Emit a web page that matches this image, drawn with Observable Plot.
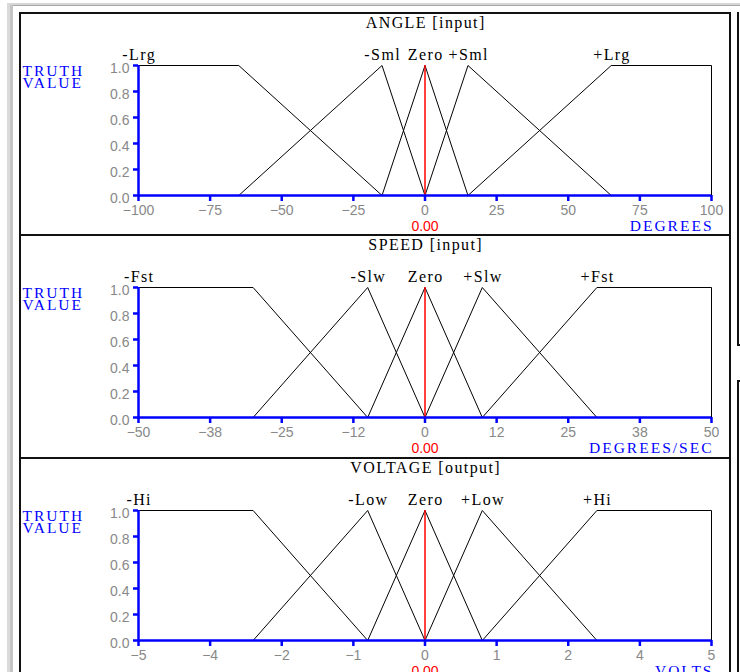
<!DOCTYPE html>
<html><head><meta charset="utf-8">
<script src="https://cdn.jsdelivr.net/npm/d3@7"></script>
<script src="https://cdn.jsdelivr.net/npm/@observablehq/plot@0.6"></script>
<style>
html,body{margin:0;padding:0;background:#fff;overflow:hidden;}
#wrap{position:relative;width:740px;height:672px;overflow:hidden;background:#fff;}
.ln{position:absolute;}
.panel{position:absolute;left:21px;}
</style></head><body>
<div id="wrap">
  <div class="ln" style="left:7px;top:3px;width:733px;height:2px;background:#d6d6d6"></div>
  <div class="ln" style="left:10px;top:5px;width:730px;height:1px;background:#a8a8a8"></div>
  <div class="ln" style="left:7px;top:3px;width:3px;height:669px;background:#dadada"></div>
  <div class="ln" style="left:10px;top:5px;width:3px;height:667px;background:#c4c4c4"></div>
  <div class="ln" style="left:19px;top:12px;width:712px;height:2px;background:#111"></div>
  <div class="ln" style="left:19px;top:12px;width:2px;height:660px;background:#111"></div>
  <div class="ln" style="left:729px;top:12px;width:2px;height:660px;background:#111"></div>
  <div class="ln" style="left:19px;top:234px;width:712px;height:2px;background:#111"></div>
  <div class="ln" style="left:19px;top:457px;width:712px;height:2px;background:#111"></div>
  <div class="ln" style="left:737px;top:12px;width:2px;height:334px;background:#111"></div>
  <div class="ln" style="left:737px;top:344px;width:3px;height:2px;background:#111"></div>
  <div class="ln" style="left:737px;top:380px;width:3px;height:2px;background:#111"></div>
  <div class="ln" style="left:737px;top:380px;width:2px;height:292px;background:#111"></div>
  <div class="panel" id="p1" style="top:14px"></div>
  <div class="panel" id="p2" style="top:236px"></div>
  <div class="panel" id="p3" style="top:459px"></div>
</div>
<script>
// ---- shared ----
const trapY = [0, 1, 1, 0];
const yTicks = [0, 0.2, 0.4, 0.6, 0.8, 1.0];
const truthLabel = "TRUTH\nVALUE";

// ---- ANGLE [input] ----
const angleTitle = "ANGLE [input]";
const angleSets = ["-Lrg", "-Sml", "Zero", "+Sml", "+Lrg"];
const angleFeet = [[-100, -100, -65, -15], [-65, -15, -15, 0], [-15, 0, 0, 15], [0, 15, 15, 65], [15, 65, 100, 100]];
const angleLabelAt = [-100, -15, 0, 15, 65];
const angleTicks = [-100, -75, -50, -25, 0, 25, 50, 75, 100];
const angleTickLabels = ["−100", "−75", "−50", "−25", "0", "25", "50", "75", "100"];
const angleUnit = "DEGREES";
const angleValue = 0;

// ---- SPEED [input] ----
const speedTitle = "SPEED [input]";
const speedSets = ["-Fst", "-Slw", "Zero", "+Slw", "+Fst"];
const speedFeet = [[-50, -50, -30, -10], [-30, -10, -10, 0], [-10, 0, 0, 10], [0, 10, 10, 30], [10, 30, 50, 50]];
const speedLabelAt = [-50, -10, 0, 10, 30];
const speedTicks = [-50, -37.5, -25, -12.5, 0, 12.5, 25, 37.5, 50];
const speedTickLabels = ["−50", "−38", "−25", "−12", "0", "12", "25", "38", "50"];
const speedUnit = "DEGREES/SEC";
const speedValue = 0;

// ---- VOLTAGE [output] ----
const voltTitle = "VOLTAGE [output]";
const voltSets = ["-Hi", "-Low", "Zero", "+Low", "+Hi"];
const voltFeet = [[-5, -5, -3, -1], [-3, -1, -1, 0], [-1, 0, 0, 1], [0, 1, 1, 3], [1, 3, 5, 5]];
const voltLabelAt = [-5, -1, 0, 1, 3];
const voltTicks = [-5, -3.75, -2.5, -1.25, 0, 1.25, 2.5, 3.75, 5];
const voltTickLabels = ["−5", "−4", "−2", "−1", "0", "1", "2", "4", "5"];
const voltUnit = "VOLTS";
const voltValue = 0;

const BLUE = "#0000ff", GRAY = "#888888", RED = "#ff0000", BLACK = "#000000";
const SERIF = "Liberation Serif, Times New Roman, serif";
const SANS = "Liberation Sans, Arial, sans-serif";

function panel(title, sets, feet, labelAt, ticks, tickLabels, unit, value) {
  const xmin = ticks[0], xmax = ticks[ticks.length - 1];
  const rows = [];
  sets.forEach((s, i) => feet[i].forEach((x, j) => rows.push({set: s, x, y: trapY[j]})));
  const svg = Plot.plot({
    width: 708, height: 221,
    marginLeft: 117, marginRight: 18, marginTop: 51, marginBottom: 40,
    x: {domain: [xmin, xmax]},
    y: {domain: [0, 1]},
    style: {fontFamily: SANS, fontSize: "14px", background: "transparent", overflow: "visible"},
    marks: [
      Plot.line(rows, {x: "x", y: "y", z: "set", stroke: "#000", strokeWidth: 1}),
      Plot.ruleX([value], {y1: 0, y2: 1, stroke: RED, strokeWidth: 1.5}),
      Plot.ruleY([0], {x1: xmin, x2: xmax, stroke: BLUE, strokeWidth: 2.5}),
      Plot.ruleX([xmin], {y1: 0, y2: 1, stroke: BLUE, strokeWidth: 2.5}),
      Plot.axisX(ticks, {tickSize: 6, tickPadding: 4, stroke: BLUE, strokeWidth: 2.5, fill: GRAY,
        tickFormat: d => tickLabels[ticks.indexOf(d)], label: null, fontFamily: SANS, fontSize: 14}),
      Plot.axisY(yTicks, {tickSize: 5, stroke: BLUE, strokeWidth: 2.5, fill: "none", label: null}),
      Plot.axisY(yTicks, {tickSize: 5, tickPadding: 4, stroke: "none", fill: GRAY, dy: 3,
        tickFormat: d3.format(".1f"), label: null, fontFamily: SANS, fontSize: 14}),
      Plot.text(sets, {x: (d, i) => labelAt[i], y: () => 1, text: d => d, dy: -10.5, dx: 0.7,
        fontFamily: SERIF, fontSize: 16, fill: BLACK}),
      Plot.text([title], {frameAnchor: "top", lineAnchor: "middle", dy: -43, dx: 0.7, text: d => d,
        fontFamily: SERIF, fontSize: 16, fill: BLACK}),
      Plot.text([truthLabel], {frameAnchor: "top-left", textAnchor: "start", lineAnchor: "top",
        lineHeight: 0.76, dx: -116, dy: 2, text: d => d,
        fontFamily: SERIF, fontSize: 15.5, fill: BLUE}),
      Plot.text([unit], {frameAnchor: "bottom-right", textAnchor: "end", lineAnchor: "middle", dy: 31, dx: 2, text: d => d,
        fontFamily: SERIF, fontSize: 15.5, fill: BLUE}),
      Plot.text([value], {x: d => d, y: () => 0, text: d => d3.format(".2f")(d), dy: 31,
        fontFamily: SANS, fontSize: 14, fill: RED})
    ]
  });
  // letter spacing for the wide serif labels (style only)
  d3.select(svg).selectAll("g").each(function() {
    const ff = this.getAttribute("font-family") || "";
    if (!ff.startsWith("Liberation Serif")) return;
    const fill = (this.getAttribute("fill") || "").toLowerCase();
    const ls = fill === BLUE ? "2px" : "1.4px";
    this.setAttribute("letter-spacing", ls);
    this.style.letterSpacing = ls;
  });
  return svg;
}

document.getElementById("p1").appendChild(panel(angleTitle, angleSets, angleFeet, angleLabelAt, angleTicks, angleTickLabels, angleUnit, angleValue));
document.getElementById("p2").appendChild(panel(speedTitle, speedSets, speedFeet, speedLabelAt, speedTicks, speedTickLabels, speedUnit, speedValue));
document.getElementById("p3").appendChild(panel(voltTitle, voltSets, voltFeet, voltLabelAt, voltTicks, voltTickLabels, voltUnit, voltValue));
</script>
</body></html>
